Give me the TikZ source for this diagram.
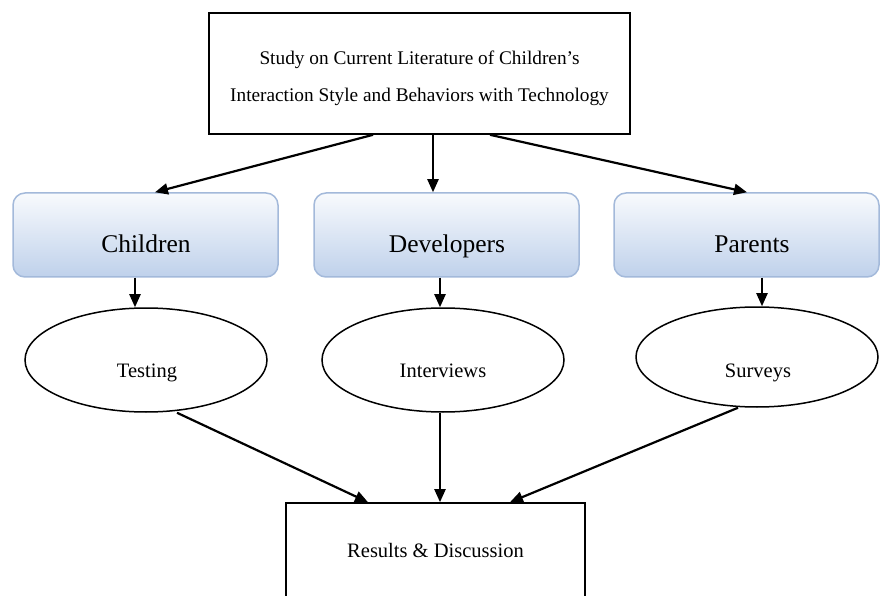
\documentclass[tikz,border=0pt]{standalone}
\usepackage{fontspec}
\setmainfont{Liberation Serif}
\usetikzlibrary{arrows.meta, calc, shapes}
\definecolor{boxline}{RGB}{163,185,218}
\definecolor{boxtop}{RGB}{248,250,253}
\definecolor{boxbot}{RGB}{191,209,235}

\begin{document}
\begin{tikzpicture}[x=1pt, y=-1pt,
group/.style={draw=boxline, line width=1.5pt, rounded corners=12pt,
  top color=boxtop, bottom color=boxbot,
  minimum width=265pt, minimum height=84pt, inner sep=0pt},
method/.style={draw=black, line width=1.5pt, ellipse,
  minimum width=242pt, minimum height=104pt, inner sep=0pt},
plain/.style={draw=black, line width=1.6pt, inner sep=0pt},
flow/.style={line width=2.2pt, -{Triangle[length=13pt,width=11pt]}},
grouptext/.style={font=\fontsize{25.5}{30}\selectfont, inner sep=0pt,
  text height=0.68em, text depth=0pt},
methodtext/.style={font=\fontsize{20.5}{24}\selectfont, inner sep=0pt,
  text height=0.68em, text depth=0pt}]
\useasboundingbox (0,0) rectangle (884,596);
% top box
\node [plain, minimum width=421pt, minimum height=121pt] (study) at (419.5,73.5) {};
\node [align=center, inner sep=0pt, font=\fontsize{19.3}{37}\selectfont] (studytext) at (419.5,78.5)
  {Study on Current Literature of Children’s\\Interaction Style and Behaviors with Technology};
% groups
\node [group] (children) at (145.5,235) {};
\node [grouptext] (childrentext) at (146,249) {Children};
\node [group] (developers) at (446.5,235) {};
\node [grouptext] (developerstext) at (447,249) {Developers};
\node [group] (parents) at (746.5,235) {};
\node [grouptext] (parentstext) at (752,249) {Parents};
% methods
\node [method] (testing) at (146,360) {};
\node [methodtext] (testingtext) at (147,374) {Testing};
\node [method] (interviews) at (443,360) {};
\node [methodtext] (interviewstext) at (443,374) {Interviews};
\node [method, minimum height=100pt] (surveys) at (757,357) {};
\node [methodtext] (surveystext) at (758,374) {Surveys};
% results box, cut at the bottom
\node [plain, minimum width=299pt, minimum height=96pt] (results) at (435.5,551) {};
\node [methodtext] (resultstext) at (435.5,554) {Results \& Discussion};
% arrows
\draw [flow] ([xshift=-46.5pt]study.south) -- ([xshift=9.5pt]children.north);
\draw [flow] ([xshift=13.5pt]study.south) -- ([xshift=-13.5pt]developers.north);
\draw [flow] ([xshift=70.5pt]study.south) -- ([xshift=0.5pt]parents.north);
\draw [flow] ([xshift=-10.5pt]children.south) -- ([xshift=-11pt]testing.north);
\draw [flow] ([xshift=-6.5pt]developers.south) -- ([xshift=-3pt]interviews.north);
\draw [flow] ([xshift=15.5pt]parents.south) -- ([xshift=5pt]surveys.north);
\draw [flow] ([xshift=31pt]testing.south) -- ([xshift=-67.5pt]results.north);
\draw [flow] ([xshift=-3pt]interviews.south) -- ([xshift=4.5pt]results.north);
\draw [flow] ([xshift=-19pt]surveys.south) -- ([xshift=74.5pt]results.north);
\end{tikzpicture}
\end{document}
